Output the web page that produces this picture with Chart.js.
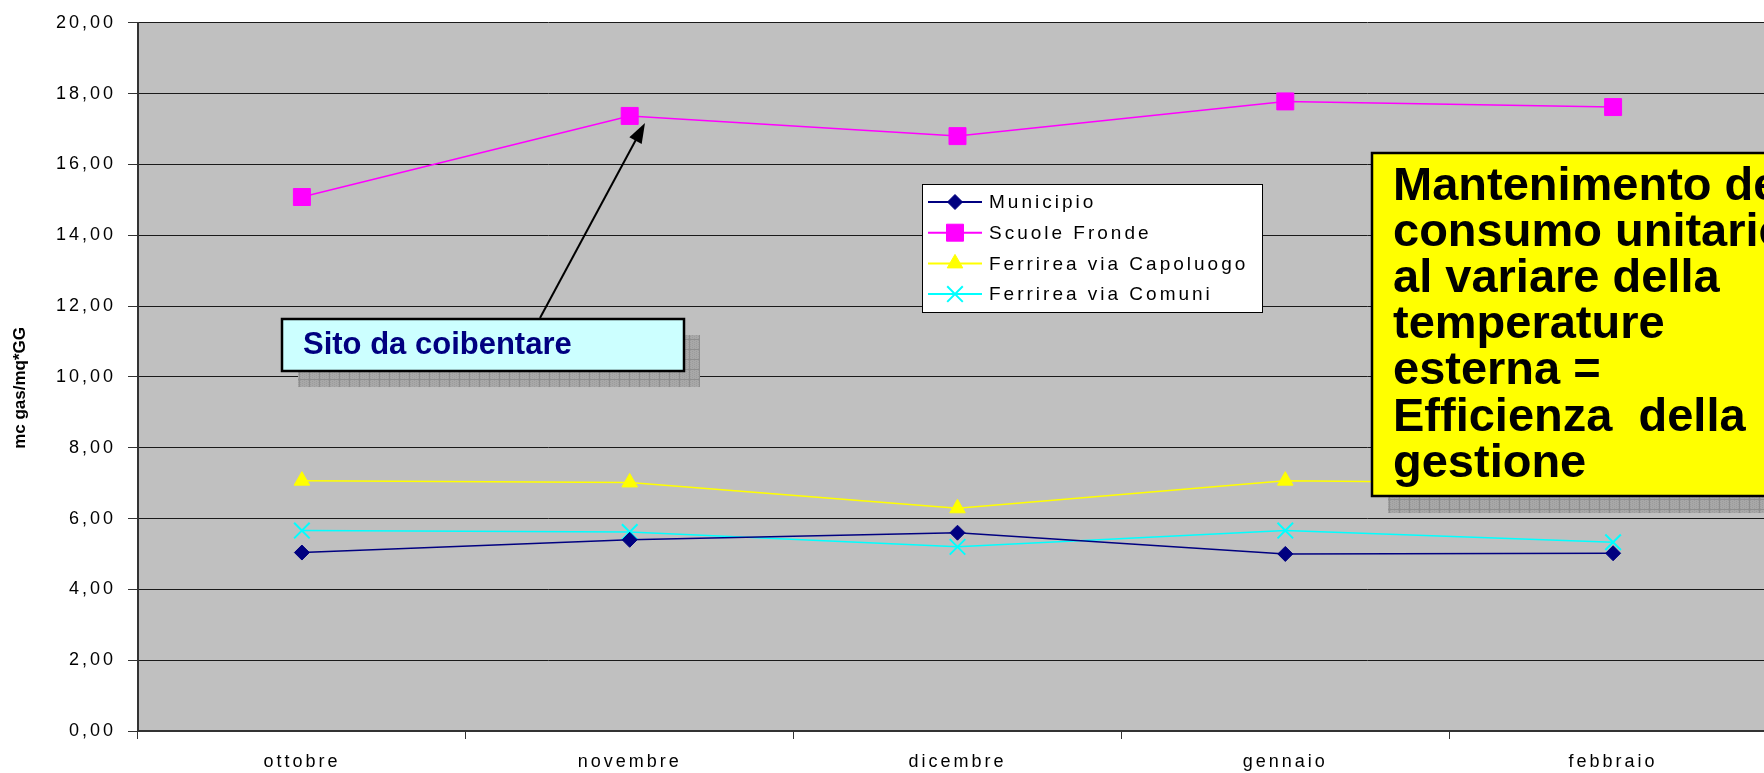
<!DOCTYPE html>
<html>
<head>
<meta charset="utf-8">
<title>mc gas/mq*GG</title>
<script src="https://cdn.jsdelivr.net/npm/chart.js@4.4.1/dist/chart.umd.min.js"></script>
<style>
  html, body { margin: 0; padding: 0; background: #fff; overflow: hidden; }
  #wrap { width: 1764px; height: 773px; overflow: hidden; }
  canvas { display: block; }
</style>
</head>
<body>
<div id="wrap"><canvas id="chart" width="1790" height="773"></canvas></div>
<script>
// data (mc gas / mq * GG)
const categories = ['ottobre', 'novembre', 'dicembre', 'gennaio', 'febbraio'];
const municipio = [5.04, 5.40, 5.60, 5.00, 5.02];
const scuoleFronde = [15.08, 17.37, 16.80, 17.78, 17.62];
const ferrireaCapoluogo = [7.07, 7.02, 6.29, 7.07, 6.98];
const ferrireaComuni = [5.66, 5.62, 5.20, 5.66, 5.33];
const yTicks = [0, 2, 4, 6, 8, 10, 12, 14, 16, 18, 20];

const FONT = '"Liberation Sans", Arial, sans-serif';

// grey plot area + spaced text like the original
const plotBg = {
  id: 'plotBg',
  beforeDraw(chart) {
    const ctx = chart.ctx;
    const a = chart.chartArea;
    ctx.save();
    ctx.fillStyle = '#c0c0c0';
    ctx.fillRect(a.left, a.top, a.right - a.left, a.bottom - a.top);
    ctx.restore();
    ctx.letterSpacing = '3px';

    // axis title is not spaced, and sits a little below the middle
    const y = chart.scales.y;
    if (!y._plainTitle) {
      const orig = y.drawTitle;
      y.drawTitle = function () {
        this.ctx.save();
        this.ctx.letterSpacing = '0px';
        this.ctx.translate(0, 11);
        orig.call(this);
        this.ctx.restore();
      };
      y._plainTitle = true;
    }
  }
};

function shadowPattern(ctx) {
  const c = document.createElement('canvas');
  c.width = 10; c.height = 10;
  const p = c.getContext('2d');
  p.fillStyle = '#a8a8a8';
  p.fillRect(0, 0, 10, 10);
  p.fillStyle = '#9c9c9c';
  for (let i = 0; i < 10; i += 2) {
    for (let j = (i / 2) % 2; j < 10; j += 2) p.fillRect(i, j, 1, 1);
  }
  p.fillStyle = '#8e8e8e';
  p.fillRect(9, 0, 1, 10);
  p.fillRect(0, 9, 10, 1);
  return ctx.createPattern(c, 'repeat');
}

function drawMarker(ctx, ds, x, y) {
  ctx.fillStyle = ds.pointBackgroundColor;
  ctx.strokeStyle = ds.pointBorderColor;
  ctx.lineWidth = ds.pointBorderWidth;
  if (Chart.helpers && Chart.helpers.drawPoint) {
    Chart.helpers.drawPoint(ctx, {
      pointStyle: ds.pointStyle,
      radius: ds.pointRadius,
      borderWidth: ds.pointBorderWidth,
      rotation: 0
    }, x, y);
  } else {
    ctx.fillRect(x - 7, y - 7, 14, 14);
  }
}

const annotations = {
  id: 'annotations',
  afterDraw(chart) {
    const ctx = chart.ctx;
    ctx.save();

    // legend box
    ctx.letterSpacing = '3px';
    ctx.fillStyle = '#ffffff';
    ctx.fillRect(922, 184, 340, 128);
    ctx.strokeStyle = '#000';
    ctx.lineWidth = 1;
    ctx.strokeRect(922.5, 184.5, 340, 128);
    ctx.font = '19px ' + FONT;
    ctx.textBaseline = 'middle';
    chart.data.datasets.forEach(function (ds, i) {
      const ly = 202 + i * 30.7;
      ctx.strokeStyle = ds.borderColor;
      ctx.lineWidth = 2;
      ctx.beginPath();
      ctx.moveTo(928, ly);
      ctx.lineTo(982, ly);
      ctx.stroke();
      drawMarker(ctx, ds, 955, ly);
      ctx.fillStyle = '#000';
      ctx.fillText(ds.label, 989, ly + 1);
    });
    ctx.letterSpacing = '0px';

    const pat = shadowPattern(ctx);

    // "Sito da coibentare" callout
    ctx.fillStyle = pat;
    ctx.fillRect(298, 335, 402, 52);
    ctx.fillStyle = '#ccffff';
    ctx.fillRect(282, 319, 402, 52);
    ctx.strokeStyle = '#000';
    ctx.lineWidth = 2.5;
    ctx.strokeRect(282, 319, 402, 52);
    ctx.fillStyle = '#000080';
    ctx.font = 'bold 31px ' + FONT;
    ctx.textBaseline = 'alphabetic';
    ctx.fillText('Sito da coibentare', 303, 354);

    // arrow to novembre
    const x0 = 540, y0 = 318, x1 = 645, y1 = 123;
    const ang = Math.atan2(y1 - y0, x1 - x0);
    ctx.strokeStyle = '#000';
    ctx.lineWidth = 2;
    ctx.beginPath();
    ctx.moveTo(x0, y0);
    ctx.lineTo(x1 - 14 * Math.cos(ang), y1 - 14 * Math.sin(ang));
    ctx.stroke();
    ctx.fillStyle = '#000';
    ctx.beginPath();
    ctx.moveTo(x1, y1);
    ctx.lineTo(x1 - 20 * Math.cos(ang) + 7 * Math.sin(ang), y1 - 20 * Math.sin(ang) - 7 * Math.cos(ang));
    ctx.lineTo(x1 - 20 * Math.cos(ang) - 7 * Math.sin(ang), y1 - 20 * Math.sin(ang) + 7 * Math.cos(ang));
    ctx.closePath();
    ctx.fill();

    // yellow note box
    ctx.fillStyle = pat;
    ctx.fillRect(1388, 170, 420, 343);
    ctx.fillStyle = '#ffff00';
    ctx.fillRect(1372, 153, 440, 343);
    ctx.strokeStyle = '#000';
    ctx.lineWidth = 2.5;
    ctx.strokeRect(1372, 153, 440, 343);
    ctx.fillStyle = '#000';
    ctx.font = 'bold 47px ' + FONT;
    const lines = ['Mantenimento del', 'consumo unitario', 'al variare della',
      'temperature', 'esterna =', 'Efficienza  della', 'gestione'];
    lines.forEach(function (t, i) {
      ctx.fillText(t, 1393, 200 + i * 46.1);
    });

    ctx.restore();
  }
};

new Chart(document.getElementById('chart'), {
  type: 'line',
  data: {
    labels: categories,
    datasets: [
      {
        label: 'Municipio',
        data: municipio,
        borderColor: '#000080',
        borderWidth: 1.5,
        pointStyle: 'rectRot',
        pointRadius: 7.5,
        pointBackgroundColor: '#000080',
        pointBorderColor: '#000080',
        pointBorderWidth: 1
      },
      {
        label: 'Scuole Fronde',
        data: scuoleFronde,
        borderColor: '#ff00ff',
        borderWidth: 1.5,
        pointStyle: 'rect',
        pointRadius: 12,
        pointBackgroundColor: '#ff00ff',
        pointBorderColor: '#ff00ff',
        pointBorderWidth: 1
      },
      {
        label: 'Ferrirea via Capoluogo',
        data: ferrireaCapoluogo,
        borderColor: '#ffff00',
        borderWidth: 1.5,
        pointStyle: 'triangle',
        pointRadius: 9,
        pointBackgroundColor: '#ffff00',
        pointBorderColor: '#ffff00',
        pointBorderWidth: 1
      },
      {
        label: 'Ferrirea via Comuni',
        data: ferrireaComuni,
        borderColor: '#00ffff',
        borderWidth: 1.5,
        pointStyle: 'crossRot',
        pointRadius: 11,
        pointBackgroundColor: '#00ffff',
        pointBorderColor: '#00ffff',
        pointBorderWidth: 2
      }
    ]
  },
  options: {
    responsive: false,
    animation: false,
    devicePixelRatio: 1,
    layout: { padding: { top: 20, right: 6, bottom: 0, left: 0 } },
    plugins: {
      legend: { display: false },
      tooltip: { enabled: false }
    },
    elements: { line: { tension: 0 } },
    scales: {
      x: {
        offset: true,
        grid: {
          offset: true,
          drawOnChartArea: false,
          drawTicks: true,
          tickLength: 8,
          color: '#333'
        },
        border: { display: true, color: '#333', width: 2 },
        ticks: {
          color: '#000',
          padding: 12,
          maxRotation: 0,
          autoSkip: false,
          font: { family: FONT, size: 18 }
        },
        afterFit(scale) { scale.height = 42; }
      },
      y: {
        min: 0,
        max: 20,
        afterBuildTicks(scale) {
          scale.ticks = yTicks.map(function (v) { return { value: v }; });
        },
        grid: {
          color: '#1a1a1a',
          lineWidth: 1,
          tickLength: 10,
          tickColor: '#333'
        },
        border: { display: true, color: '#333', width: 2 },
        ticks: {
          color: '#000',
          padding: 12,
          font: { family: FONT, size: 18 },
          callback: function (v) { return Number(v).toFixed(2).replace('.', ','); }
        },
        title: {
          display: true,
          text: 'mc gas/mq*GG',
          color: '#000',
          padding: { top: 10, bottom: 0 },
          font: { family: FONT, size: 17, weight: 'bold' }
        },
        afterFit(scale) { scale.width = 138; }
      }
    }
  },
  plugins: [plotBg, annotations]
});
</script>
</body>
</html>
